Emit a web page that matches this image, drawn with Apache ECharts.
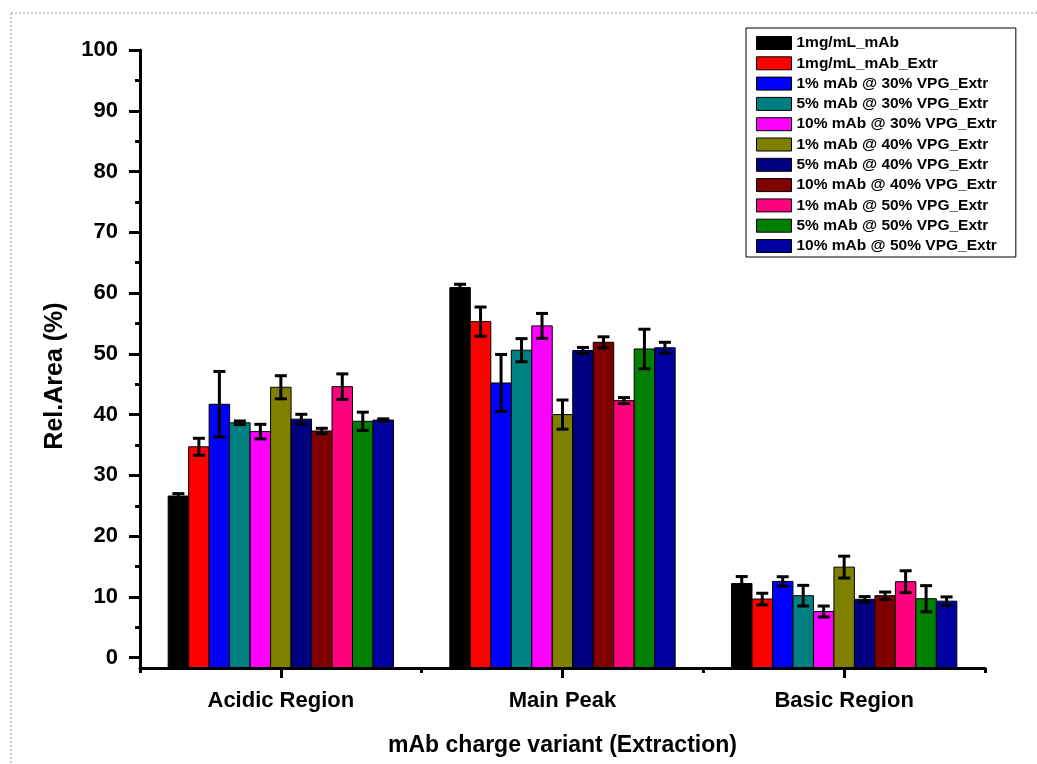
<!DOCTYPE html>
<html>
<head>
<meta charset="utf-8">
<script src="https://cdn.jsdelivr.net/npm/echarts@6/dist/echarts.min.js"></script>
<style>
  html, body { margin: 0; padding: 0; background: #fff; }
  #chart { width: 1037px; height: 764px; }
</style>
</head>
<body>
<div id="chart"></div>
<script>
// ---------------- DATA ----------------
const categories = ['Acidic Region', 'Main Peak', 'Basic Region'];
const seriesNames = [
  '1mg/mL_mAb',
  '1mg/mL_mAb_Extr',
  '1% mAb @ 30% VPG_Extr',
  '5% mAb @ 30% VPG_Extr',
  '10% mAb @ 30% VPG_Extr',
  '1% mAb @ 40% VPG_Extr',
  '5% mAb @ 40% VPG_Extr',
  '10% mAb @ 40% VPG_Extr',
  '1% mAb @ 50% VPG_Extr',
  '5% mAb @ 50% VPG_Extr',
  '10% mAb @ 50% VPG_Extr'
];
const seriesColors = ['#000000', '#FF0000', '#0000FF', '#008080', '#FF00FF', '#808000',
                      '#000080', '#800000', '#FF0080', '#008000', '#0000A0'];
// values per category (one entry per series)
const acidicValues = [26.6, 34.7, 41.7, 38.65, 37.2, 44.5, 39.25, 37.3, 44.6, 38.9, 39.1];
const mainValues   = [60.9, 55.3, 45.2, 50.6, 54.6, 40.0, 50.55, 51.9, 42.3, 50.8, 51.0];
const basicValues  = [12.2, 9.65, 12.55, 10.2, 7.6, 14.9, 9.6, 10.2, 12.5, 9.7, 9.3];
// error (± SD)
const acidicErr = [0.4, 1.4, 5.4, 0.3, 1.2, 1.9, 0.8, 0.45, 2.1, 1.5, 0.2];
const mainErr   = [0.55, 2.4, 4.7, 1.9, 2.05, 2.4, 0.5, 0.9, 0.5, 3.25, 0.9];
const basicErr  = [1.15, 0.95, 0.77, 1.7, 0.9, 1.8, 0.45, 0.6, 1.8, 2.15, 0.7];
// axis ticks
const yMajorTicks = [0, 10, 20, 30, 40, 50, 60, 70, 80, 90, 100];
const yMinorTicks = [5, 15, 25, 35, 45, 55, 65, 75, 85, 95];
const Y_MIN = -1.7, Y_MAX = 100;

// --------------- CHART ----------------
const FONT = '"Liberation Sans", Arial, sans-serif';
const N = seriesNames.length;
const groupFraction = 0.80;
const valueCols = [acidicValues, mainValues, basicValues];
const errCols = [acidicErr, mainErr, basicErr];

function renderItem(params, api) {
  const s = params.seriesIndex;
  const cat = api.value(0), val = api.value(1), err = api.value(2);
  const top = api.coord([cat, val]);
  const base = api.coord([cat, Y_MIN]);
  const bw = api.size([1, 0])[0];
  const groupW = bw * groupFraction;
  const barW = groupW / N;
  const x0 = top[0] - groupW / 2 + s * barW;
  const xc = x0 + barW / 2;
  const eTop = api.coord([cat, val + err])[1];
  const eBot = api.coord([cat, val - err])[1];
  const cap = 6;
  const lineStyle = { stroke: '#000', lineWidth: 3 };
  return {
    type: 'group',
    children: [
      { type: 'rect', shape: { x: x0, y: top[1], width: barW, height: base[1] - top[1] },
        style: { fill: api.visual('color'), stroke: '#000', lineWidth: 1 } },
      { type: 'line', shape: { x1: xc, y1: eTop, x2: xc, y2: eBot }, style: lineStyle },
      { type: 'line', shape: { x1: xc - cap, y1: eTop, x2: xc + cap, y2: eTop }, style: lineStyle },
      { type: 'line', shape: { x1: xc - cap, y1: eBot, x2: xc + cap, y2: eBot }, style: lineStyle }
    ]
  };
}

const series = seriesNames.map((name, s) => ({
  name: name,
  type: 'custom',
  renderItem: renderItem,
  itemStyle: { color: seriesColors[s], borderColor: '#000', borderWidth: 1 },
  encode: { x: 0, y: 1 },
  data: categories.map((c, i) => [i, valueCols[i][s], errCols[i][s]]),
  z: 2
}));

const chart = echarts.init(document.getElementById('chart'), null, { renderer: 'canvas' });
chart.setOption({
  animation: false,
  backgroundColor: '#fff',
  textStyle: { fontFamily: FONT },
  grid: { left: 140, right: 52, top: 50, bottom: 96, containLabel: false },
  legend: {
    orient: 'vertical',
    left: 746, top: 28,
    padding: [7, 19, 3, 10],
    borderColor: '#000', borderWidth: 1,
    itemWidth: 35, itemHeight: 13, itemGap: 4.3,
    itemStyle: { borderColor: '#000', borderWidth: 1 },
    icon: 'rect',
    textStyle: { fontFamily: FONT, fontSize: 15.5, fontWeight: 'bold', color: '#000' },
    data: seriesNames
  },
  xAxis: [{
    type: 'category',
    data: categories,
    boundaryGap: true,
    z: 5,
    axisLine: { show: true, onZero: false, lineStyle: { color: '#000', width: 3 } },
    axisTick: { show: true, alignWithLabel: false, inside: false, length: 5, lineStyle: { color: '#000', width: 3 } },
    axisLabel: { show: true, margin: 22, fontFamily: FONT, fontSize: 22, fontWeight: 'bold', color: '#000' },
    splitLine: { show: false },
    name: 'mAb charge variant (Extraction)',
    nameLocation: 'middle',
    nameGap: 66,
    nameTextStyle: { fontFamily: FONT, fontSize: 23, fontWeight: 'bold', color: '#000' }
  }, {
    type: 'category',
    data: categories,
    position: 'bottom',
    boundaryGap: true,
    z: 5,
    axisLine: { show: false, onZero: false },
    axisTick: { show: true, alignWithLabel: true, length: 10, lineStyle: { color: '#000', width: 3 } },
    axisLabel: { show: false },
    splitLine: { show: false }
  }],
  yAxis: [{
    type: 'value',
    min: Y_MIN, max: Y_MAX,
    z: 5,
    axisLine: { show: true, onZero: false, lineStyle: { color: '#000', width: 3 } },
    axisTick: { show: true, customValues: yMajorTicks, length: 11, lineStyle: { color: '#000', width: 3 } },
    axisLabel: { show: true, customValues: yMajorTicks, margin: 22, fontFamily: FONT, fontSize: 22, fontWeight: 'bold', color: '#000' },
    splitLine: { show: false },
    name: 'Rel.Area (%)',
    nameLocation: 'middle',
    nameGap: 72,
    nameRotate: 90,
    nameTextStyle: { fontFamily: FONT, fontSize: 25, fontWeight: 'bold', color: '#000', padding: [0, 34, 0, 0] }
  }, {
    type: 'value',
    position: 'left',
    min: Y_MIN, max: Y_MAX,
    z: 5,
    axisLine: { show: false, onZero: false },
    axisTick: { show: true, customValues: yMinorTicks, length: 5, lineStyle: { color: '#000', width: 3 } },
    axisLabel: { show: false, customValues: yMinorTicks },
    splitLine: { show: false }
  }],
  graphic: [
    { type: 'line', silent: true, shape: { x1: 11, y1: 13, x2: 1037, y2: 13 },
      style: { stroke: '#b8b8b8', lineWidth: 1.5, lineDash: [2, 2] } },
    { type: 'line', silent: true, shape: { x1: 11, y1: 13, x2: 11, y2: 764 },
      style: { stroke: '#b8b8b8', lineWidth: 1.5, lineDash: [2, 2] } }
  ],
  series: series
});
</script>
</body>
</html>
